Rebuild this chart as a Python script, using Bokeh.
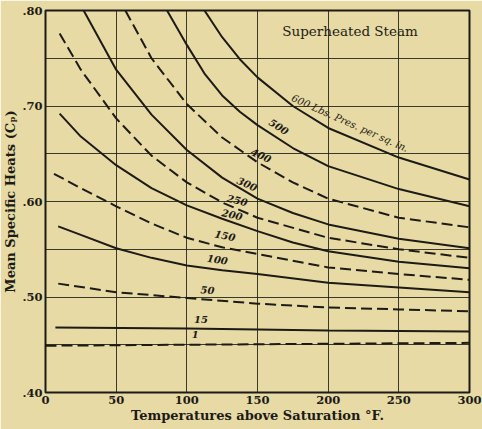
from bokeh.plotting import figure
from bokeh.models import FixedTicker, Range1d, ColumnDataSource
from bokeh.core.properties import value
from bokeh.embed import file_html
from bokeh.resources import INLINE

# ---- data (temperature above saturation, mean specific heat) ----
p600_t = [112.5, 125, 137.5, 150, 175, 200, 250, 300]
p600_v = [0.800, 0.772, 0.749, 0.730, 0.700, 0.677, 0.646, 0.623]
p500_t = [86, 100, 112.5, 125, 137.5, 150, 175, 200, 250, 300]
p500_v = [0.800, 0.764, 0.734, 0.711, 0.694, 0.680, 0.656, 0.637, 0.613, 0.595]
p400_t = [56.5, 75, 100, 125, 150, 175, 200, 250, 300]
p400_v = [0.800, 0.750, 0.702, 0.667, 0.641, 0.620, 0.603, 0.583, 0.573]
p300_t = [27, 50, 75, 100, 125, 150, 175, 200, 250, 300]
p300_v = [0.800, 0.738, 0.691, 0.654, 0.625, 0.603, 0.588, 0.576, 0.561, 0.551]
p250_t = [10, 25, 50, 75, 100, 125, 150, 200, 250, 300]
p250_v = [0.776, 0.738, 0.687, 0.648, 0.620, 0.599, 0.583, 0.562, 0.550, 0.541]
p200_t = [10, 25, 50, 75, 100, 125, 150, 175, 200, 250, 300]
p200_v = [0.692, 0.668, 0.638, 0.614, 0.596, 0.582, 0.569, 0.557, 0.548, 0.537, 0.530]
p150_t = [6, 25, 50, 75, 100, 125, 150, 200, 250, 300]
p150_v = [0.629, 0.614, 0.595, 0.577, 0.562, 0.552, 0.545, 0.531, 0.524, 0.518]
p100_t = [9, 25, 50, 75, 100, 125, 150, 200, 250, 300]
p100_v = [0.574, 0.565, 0.551, 0.541, 0.533, 0.528, 0.524, 0.515, 0.510, 0.505]
p50_t = [9, 50, 100, 150, 200, 250, 300]
p50_v = [0.514, 0.505, 0.499, 0.493, 0.489, 0.487, 0.485]
p15_t = [7, 100, 200, 300]
p15_v = [0.468, 0.467, 0.465, 0.464]
p1_t = [0, 150, 300]
p1_v = [0.449, 0.4505, 0.452]

curves = [
    (p600_t, p600_v, "solid"), (p500_t, p500_v, "solid"), (p400_t, p400_v, "dashed"),
    (p300_t, p300_v, "solid"), (p250_t, p250_v, "dashed"), (p200_t, p200_v, "solid"),
    (p150_t, p150_v, "dashed"), (p100_t, p100_v, "solid"), (p50_t, p50_v, "dashed"),
    (p15_t, p15_v, "solid"), (p1_t, p1_v, "dashed"),
]

label_text = ["500", "400", "300", "250", "200", "150", "100", "50", "15", "1"]
label_t = [165, 152.5, 142.6, 135.6, 132, 127, 121.6, 114.6, 110, 106]
label_v = [0.678, 0.648, 0.618, 0.601, 0.586, 0.564, 0.539, 0.507, 0.476, 0.461]
label_angle = [-33, -25, -24, -14, -13, -12, -8, -4, 0, 0]

x_ticks = [0, 50, 100, 150, 200, 250, 300]
y_ticks = [0.40, 0.50, 0.60, 0.70, 0.80]
y_tick_labels = [".40", ".50", ".60", ".70", ".80"]
y_grid = [0.40, 0.45, 0.50, 0.55, 0.60, 0.65, 0.70, 0.75, 0.80]

BG = "#e7daa4"
INK = "#1d1b15"
SERIF = "DejaVu Serif"

p = figure(frame_width=424, frame_height=382, output_backend="svg", toolbar_location=None,
           x_range=Range1d(0, 300), y_range=Range1d(0.40, 0.80),
           min_border_left=44, min_border_right=14, min_border_top=10, min_border_bottom=37)
p.background_fill_color = BG
p.border_fill_color = BG
p.outline_line_color = INK
p.outline_line_width = 2

p.xaxis.ticker = FixedTicker(ticks=x_ticks)
p.yaxis.ticker = FixedTicker(ticks=y_ticks)
p.yaxis.major_label_overrides = {t: s for t, s in zip(y_ticks, y_tick_labels)}
p.xgrid.ticker = FixedTicker(ticks=x_ticks)
p.ygrid.ticker = FixedTicker(ticks=y_grid)
for g in (p.xgrid, p.ygrid):
    g.grid_line_color = INK
    g.grid_line_width = 1
    g.grid_line_alpha = 0.85

for ax in (p.xaxis, p.yaxis):
    ax.axis_line_color = None
    ax.major_tick_line_color = None
    ax.minor_tick_line_color = None
    ax.major_tick_out = 0
    ax.major_tick_in = 0
    ax.minor_tick_out = 0
    ax.minor_tick_in = 0
    ax.major_label_text_font = SERIF
    ax.major_label_text_font_style = "bold"
    ax.major_label_text_font_size = "11.5px"
    ax.major_label_text_color = INK
    ax.axis_label_text_font = SERIF
    ax.axis_label_text_font_style = "bold"
    ax.axis_label_text_font_size = "13px"
    ax.axis_label_text_color = INK
    ax.major_label_standoff = 3
    ax.axis_label_standoff = 1

p.xaxis.axis_label = "Temperatures above Saturation °F."
p.yaxis.axis_label = "Mean Specific Heats (Cₚ)"

for t, v, style in curves:
    if style == "solid":
        p.line(t, v, line_color=INK, line_width=2)
    else:
        p.line(t, v, line_color=INK, line_width=2, line_dash="11 5")

src = ColumnDataSource(dict(x=label_t, y=label_v, text=label_text, angle=label_angle))
p.text(x="x", y="y", text="text", angle="angle", angle_units="deg", source=src,
       text_font=value(SERIF), text_font_style="bold italic", text_font_size="10px",
       text_color=INK, text_align="center", text_baseline="middle")

p.text(x=[215.5], y=[0.682], text=["600 Lbs. Pres. per sq. in."], angle=[-24], angle_units="deg",
       text_font=value(SERIF), text_font_style="italic", text_font_size="10px",
       text_color=INK, text_align="center", text_baseline="middle")

p.text(x=[215.5], y=[0.779], text=["Superheated Steam"],
       text_font=value(SERIF), text_font_size="13.5px",
       text_color=INK, text_align="center", text_baseline="middle")

open("out.html", "w").write(file_html(p, INLINE))
